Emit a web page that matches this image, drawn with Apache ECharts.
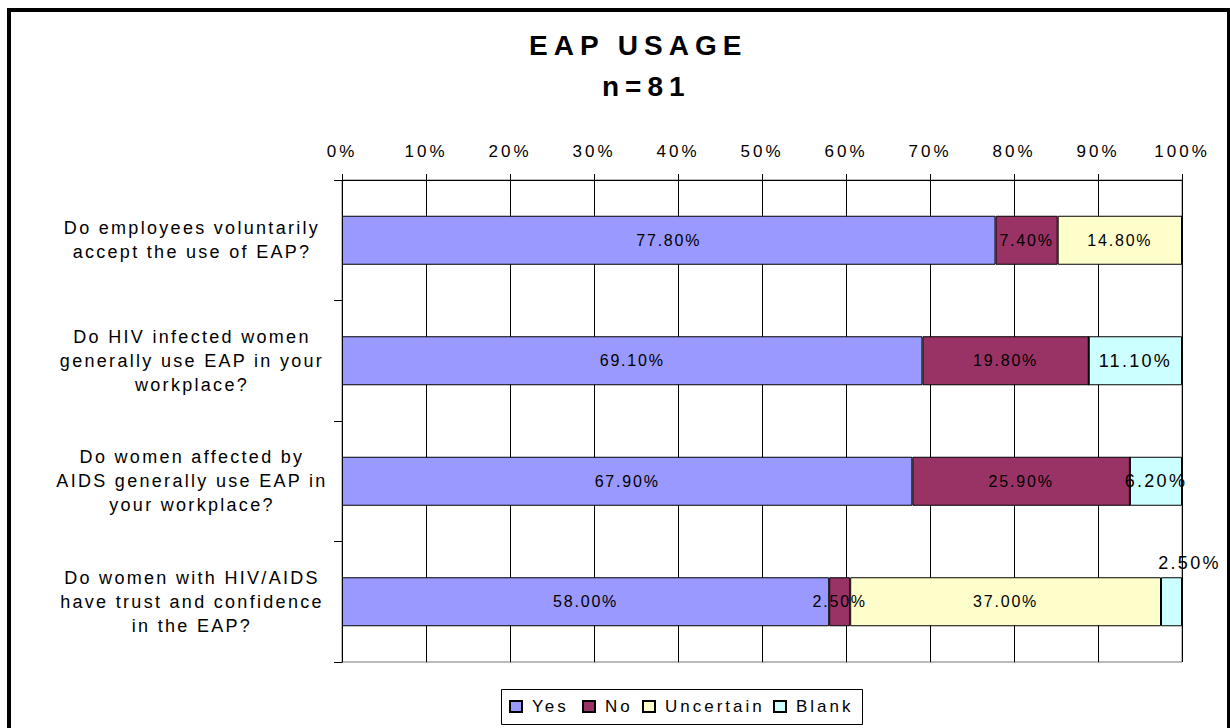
<!DOCTYPE html>
<html>
<head>
<meta charset="utf-8">
<title>EAP USAGE</title>
<script src="https://cdn.jsdelivr.net/npm/echarts@6/dist/echarts.min.js"></script>
<style>
  html, body { margin: 0; padding: 0; background: #fff; }
  #chart { width: 1230px; height: 728px; }
  /* the original text is widely spaced, svg text takes css letter-spacing */
  #chart text[style*="28px"] { letter-spacing: 6px; }
  #chart text[style*="18px"] { letter-spacing: 2.3px; }
  #chart text[style*="17px"] { letter-spacing: 3px; }
  #chart text[style*="16px"] { letter-spacing: 1.8px; }
</style>
</head>
<body>
<div id="chart"></div>
<script>
// questions, top to bottom
const categories = [
  'Do employees voluntarily\naccept the use of EAP?',
  'Do HIV infected women\ngenerally use EAP in your\nworkplace?',
  'Do women affected by\nAIDS generally use EAP in\nyour workplace?',
  'Do women with HIV/AIDS\nhave trust and confidence\nin the EAP?'
]
// answers in percent
const seriesNames = ['Yes', 'No', 'Uncertain', 'Blank']
const yesData = [77.8, 69.1, 67.9, 58.0]
const noData = [7.4, 19.8, 25.9, 2.5]
const uncertainData = [14.8, 0, 0, 37.0]
const blankData = [0, 11.1, 6.2, 2.5]

const FONT = '"Liberation Sans", Arial, sans-serif'

function makeSeries (name, values, color, fontSize) {
  return {
    name: name,
    type: 'bar',
    stack: 'total',
    barWidth: 49,
    itemStyle: { color: color, borderColor: '#000', borderWidth: 1 },
    label: {
      show: true,
      position: 'inside',
      color: '#000',
      fontSize: fontSize,
      fontFamily: FONT,
      formatter: function (p) {
        return p.value > 0 ? p.value.toFixed(2) + '%' : ''
      }
    },
    data: values.slice()
  }
}

const blankSeries = makeSeries('Blank', blankData, '#CCFFFF', 18)
// the last small blank label sits above the bar, as in the original
blankSeries.data[3] = { value: blankData[3], label: { position: 'top', offset: [18, 0] } }

// one legend per item: the spaced-out text would otherwise run into the next item
const legendLefts = [509, 582, 642, 773]
const legends = seriesNames.map(function (name, i) {
  return {
    data: [name],
    left: legendLefts[i],
    top: 689,
    padding: [9, 0, 9, 0],
    icon: 'rect',
    itemWidth: 12,
    itemHeight: 11,
    textStyle: { fontSize: 17, color: '#000', fontFamily: FONT, padding: [0, 0, 0, 5] }
  }
})

let myChart = echarts.init(document.getElementById('chart'), null, { renderer: 'svg' })
let option = {
  animation: false,
  backgroundColor: '#fff',
  title: [
    {
      text: 'EAP USAGE',
      left: 524,
      top: 26,
      textStyle: { fontSize: 28, fontWeight: 'bold', color: '#000', fontFamily: FONT }
    },
    {
      text: 'n=81',
      left: 597,
      top: 67,
      textStyle: { fontSize: 28, fontWeight: 'bold', color: '#000', fontFamily: FONT }
    }
  ],
  graphic: [
    {
      // outer frame
      type: 'rect',
      silent: true,
      shape: { x: 9, y: 10, width: 1220, height: 730 },
      style: { fill: 'none', stroke: '#000', lineWidth: 4 }
    },
    {
      // legend box
      type: 'rect',
      silent: true,
      shape: { x: 501.5, y: 689.5, width: 361, height: 35 },
      style: { fill: 'none', stroke: '#000', lineWidth: 1 }
    }
  ],
  legend: legends,
  grid: {
    show: true,
    left: 342,
    right: 48,
    top: 180,
    bottom: 66,
    borderColor: '#777',
    borderWidth: 1,
    backgroundColor: 'transparent'
  },
  xAxis: {
    type: 'value',
    position: 'top',
    min: 0,
    max: 100,
    interval: 10,
    axisLine: { show: true, lineStyle: { color: '#000' } },
    axisTick: { show: true, length: 6, lineStyle: { color: '#000' } },
    axisLabel: { formatter: '{value}%', fontSize: 17, color: '#000', fontFamily: FONT, margin: 20 },
    splitLine: { show: true, lineStyle: { color: '#000', width: 1 } }
  },
  yAxis: {
    type: 'category',
    inverse: true,
    data: categories,
    axisLine: { show: true, lineStyle: { color: '#000' } },
    axisTick: { show: true, length: 8, lineStyle: { color: '#000' } },
    axisLabel: {
      fontSize: 18,
      color: '#000',
      fontFamily: FONT,
      lineHeight: 24,
      align: 'center',
      margin: 150
    }
  },
  series: [
    makeSeries(seriesNames[0], yesData, '#9999FF', 16),
    makeSeries(seriesNames[1], noData, '#993366', 16),
    makeSeries(seriesNames[2], uncertainData, '#FFFFCC', 16),
    blankSeries
  ]
}
myChart.setOption(option, true)
</script>
</body>
</html>
